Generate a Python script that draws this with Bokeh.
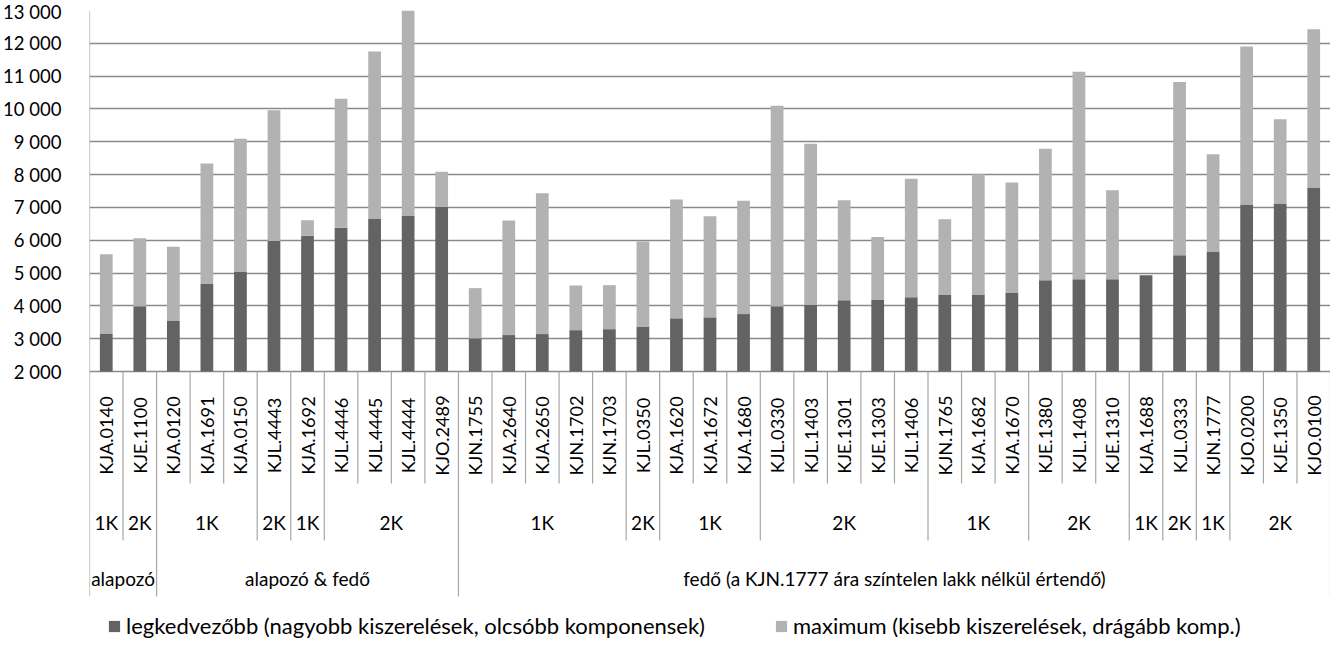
import numpy as np
from bokeh.plotting import figure
from bokeh.models import Range1d, FixedTicker, Legend, LegendItem, ColumnDataSource
from bokeh.core.properties import value
from bokeh.embed import file_html
from bokeh.resources import INLINE

# ---------------- data ----------------
codes = ["KJA.0140", "KJE.1100", "KJA.0120", "KJA.1691", "KJA.0150", "KJL.4443", "KJA.1692",
         "KJL.4446", "KJL.4445", "KJL.4444", "KJO.2489", "KJN.1755", "KJA.2640", "KJA.2650",
         "KJN.1702", "KJN.1703", "KJL.0350", "KJA.1620", "KJA.1672", "KJA.1680", "KJL.0330",
         "KJL.1403", "KJE.1301", "KJE.1303", "KJL.1406", "KJN.1765", "KJA.1682", "KJA.1670",
         "KJE.1380", "KJL.1408", "KJE.1310", "KJA.1688", "KJL.0333", "KJN.1777", "KJO.0200",
         "KJE.1350", "KJO.0100"]
components = ["1K", "2K", "1K", "1K", "1K", "2K", "1K", "2K", "2K", "2K", "2K",
              "1K", "1K", "1K", "1K", "1K", "2K", "1K", "1K", "1K", "2K", "2K", "2K", "2K", "2K",
              "1K", "1K", "1K", "2K", "2K", "2K", "1K", "2K", "1K", "2K", "2K", "2K"]
group_names = ["alapozó", "alapozó & fedő", "fedő (a KJN.1777 ára színtelen lakk nélkül értendő)"]
group_sizes = [2, 9, 26]
legkedvezobb = [3140, 3990, 3540, 4670, 5050, 5980, 6140, 6380, 6650, 6740, 7020,
                3010, 3110, 3140, 3260, 3290, 3370, 3620, 3650, 3750, 3990, 4030, 4170, 4180,
                4260, 4350, 4350, 4410, 4780, 4810, 4810, 4930, 5540, 5660, 7090, 7120, 7610]
maximum = [5570, 6060, 5800, 8340, 9090, 9960, 6610, 10310, 11750, 13000, 8090,
           4540, 6600, 7430, 4620, 4630, 5960, 7240, 6730, 7200, 10100, 8940, 7220, 6100,
           7870, 6640, 8010, 7760, 8790, 11130, 7520, 4930, 10820, 8620, 11900, 9690, 12430]
series_names = ["legkedvezőbb (nagyobb kiszerelések, olcsóbb komponensek)",
                "maximum (kisebb kiszerelések, drágább komp.)"]
y_ticks = [2000, 3000, 4000, 5000, 6000, 7000, 8000, 9000, 10000, 11000, 12000, 13000]
y_tick_labels = ["2 000", "3 000", "4 000", "5 000", "6 000", "7 000", "8 000", "9 000",
                 "10 000", "11 000", "12 000", "13 000"]

# ---------------- style / layout ----------------
FONT = "Lato"
DARK = "#636363"
LIGHT = "#b2b2b2"
GRID = "#8a8a8a"
SEP = "#a6a6a6"
FRAME_W = 1241
FRAME_H = 629
BASE_PX = 361          # pixel (from frame top) of the 2000 baseline
BAND1 = 473
BAND2 = 530
BAND3 = 586
CODE_Y = 425
COMP_Y = 512
GROUP_Y = 568

y_top = y_ticks[-1]
y_base = y_ticks[0]
y_low = y_top - FRAME_H / BASE_PX * (y_top - y_base)

n = len(codes)
groups = []
for gi, s in enumerate(group_sizes):
    groups += [gi] * s

p = figure(frame_width=FRAME_W, frame_height=FRAME_H, output_backend="svg",
           toolbar_location=None, x_axis_location=None,
           x_range=Range1d(0, n), y_range=Range1d(y_low, y_top),
           min_border_left=80, min_border_top=10, min_border_right=0, min_border_bottom=0)
p.extra_y_ranges = {"px": Range1d(start=FRAME_H, end=0)}
p.outline_line_color = None
p.background_fill_color = "white"
p.border_fill_color = "white"

p.xgrid.visible = False
p.yaxis.ticker = FixedTicker(ticks=y_ticks)
p.yaxis.major_label_overrides = {t: l for t, l in zip(y_ticks, y_tick_labels)}
p.yaxis.axis_line_color = None
p.yaxis.major_tick_line_color = None
p.yaxis.minor_tick_line_color = None
p.yaxis.major_label_standoff = 22
p.yaxis.major_label_text_font = FONT
p.yaxis.major_label_text_font_size = "18.5px"
p.yaxis.major_label_text_color = "#000000"
p.ygrid.grid_line_color = GRID
p.ygrid.grid_line_width = 1.6

x = np.arange(n) + 0.5
src = ColumnDataSource(dict(x=x, mn=legkedvezobb, mx=maximum))
r1 = p.vbar(x="x", bottom=y_base, top="mn", width=0.38, fill_color=DARK, line_color=None, source=src)
r2 = p.vbar(x="x", bottom="mn", top="mx", width=0.38, fill_color=LIGHT, line_color=None, source=src)

# category separators
sx, sy0, sy1 = [0], [0], [BAND3]
for i in range(1, n):
    if groups[i] != groups[i - 1]:
        end = BAND3
    elif components[i] != components[i - 1]:
        end = BAND2
    else:
        end = BAND1
    sx.append(i); sy0.append(BASE_PX); sy1.append(end)
sx.append(n); sy0.append(BASE_PX); sy1.append(BAND3)
p.segment(x0=sx, x1=sx, y0=sy0, y1=sy1, y_range_name="px", line_color=SEP, line_width=1.2)

# code labels (rotated)
p.text(x=x, y=[CODE_Y] * n, text=codes, angle=np.pi / 2, y_range_name="px",
       text_align="center", text_baseline="middle", text_font=value(FONT),
       text_font_size="18.2px", text_color="#000000")

# component labels
cx, ct = [], []
start = 0
for i in range(1, n + 1):
    if i == n or groups[i] != groups[start] or components[i] != components[start]:
        cx.append((start + i) / 2); ct.append(components[start]); start = i
p.text(x=cx, y=[COMP_Y] * len(cx), text=ct, y_range_name="px",
       text_align="center", text_baseline="middle", text_font=value(FONT),
       text_font_size="19px", text_color="#000000")

# group labels
gx = []
acc = 0
for s in group_sizes:
    gx.append(acc + s / 2); acc += s
p.text(x=gx, y=[GROUP_Y] * len(gx), text=group_names, y_range_name="px",
       text_align="center", text_baseline="middle", text_font=value(FONT),
       text_font_size="19px", text_color="#000000")

# legends
for r, name, lx in [(r1, series_names[0], 18), (r2, series_names[1], 685)]:
    leg = Legend(items=[LegendItem(label=name, renderers=[r])], location=(lx, 0),
                 orientation="horizontal", padding=0, margin=0, spacing=0,
                 border_line_color=None, background_fill_alpha=0,
                 glyph_width=14, glyph_height=14, label_standoff=5, label_height=22,
                 label_text_font=FONT, label_text_font_size="22px", label_text_color="#000000")
    p.add_layout(leg)

open("out.html", "w").write(file_html(p, INLINE))
